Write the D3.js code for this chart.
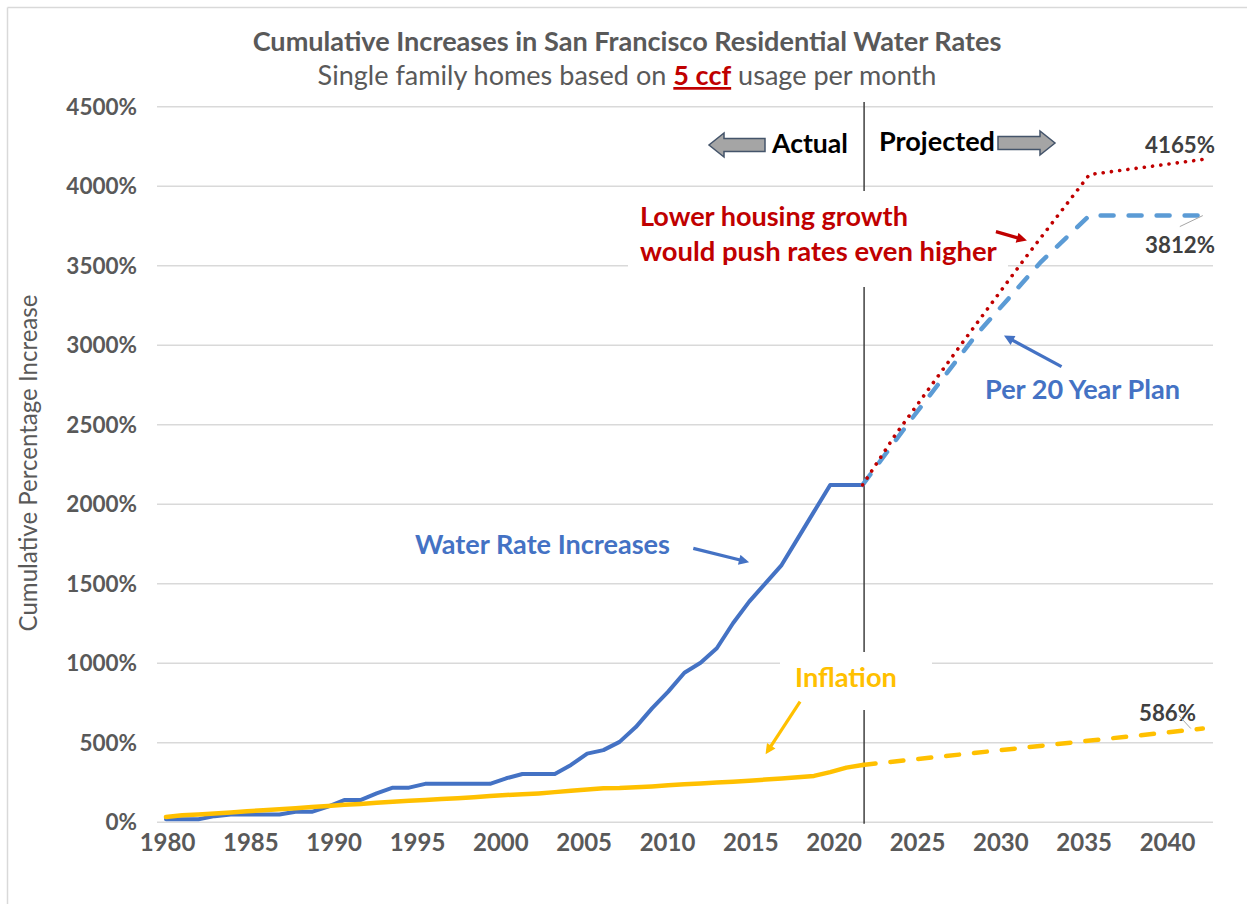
<!DOCTYPE html>
<html>
<head>
<meta charset="utf-8">
<script src="https://cdn.jsdelivr.net/npm/d3@7"></script>
<style>
  body { margin: 0; background: #fff; }
  svg { display: block; font-family: Lato, "Open Sans", sans-serif; }
</style>
</head>
<body>
<div id="chart"></div>
<script>
// --- Data ---
const actualYears = d3.range(1980, 2024);
const waterRate = [15, 15, 15, 35, 45, 45, 45, 45, 62, 62,
  95, 136, 136, 178, 214, 214, 238, 238, 238, 238,
  238, 273, 300, 300, 300, 357, 428, 450, 502, 595,
  713, 818, 937, 1000, 1091, 1248, 1384, 1499, 1614, 1782,
  1950, 2118, 2118, 2118];
const inflation = [30, 40, 46, 52, 58, 66, 72, 79, 85, 92,
  99, 106, 112, 119, 125, 132, 137, 142, 147, 154,
  162, 168, 172, 178, 186, 195, 203, 211, 212, 216,
  222, 229, 235, 241, 247, 252, 258, 265, 272, 280,
  288, 312, 340, 357];

const planYears = [2023, 2026, 2030, 2034, 2037, 2044];
const planRate = [2118, 2530, 3060, 3520, 3812, 3812];
const lowGrowthYears = [2023, 2025, 2029, 2033, 2037, 2044];
const lowGrowthRate = [2118, 2430, 2990, 3540, 4070, 4165];
const inflProjYears = [2023, 2044];
const inflProj = [357, 586];

const dividerYear = 2023;
const yTicks = [0, 500, 1000, 1500, 2000, 2500, 3000, 3500, 4000, 4500];
const xTicks = [1980, 1985, 1990, 1995, 2000, 2005, 2010, 2015, 2020, 2025, 2030, 2035, 2040];

// --- Setup ---
const width = 1247, height = 904;
const svg = d3.select('#chart').append('svg')
  .attr('width', width).attr('height', height);

const x = d3.scaleLinear().domain([1980, 2044]).range([166, 1202.8]);
const y = d3.scaleLinear().domain([0, 4500]).range([821.7, 106.2]);
// category labels sit on their own evenly spaced positions
const xLabel = d3.scalePoint().domain(xTicks).range([167, 1167]);
const gridLeft = 157, gridRight = 1213;

function fit(sel, w) {
  const fs = parseFloat(sel.attr('font-size'));
  const len = sel.node().getComputedTextLength();
  sel.attr('font-size', (fs * w / len).toFixed(2));
  return sel;
}

// outer border (top / left)
svg.append('line').attr('x1', 7.5).attr('x2', width).attr('y1', 7.5).attr('y2', 7.5)
  .attr('stroke', '#d9d9d9').attr('stroke-width', 1.5);
svg.append('line').attr('x1', 7.5).attr('x2', 7.5).attr('y1', 7.5).attr('y2', height)
  .attr('stroke', '#d9d9d9').attr('stroke-width', 1.5);

// Title
fit(svg.append('text')
  .attr('x', 627).attr('y', 51)
  .attr('text-anchor', 'middle')
  .attr('font-size', 23).attr('font-weight', 'bold').attr('fill', '#595959')
  .text('Cumulative Increases in San Francisco Residential Water Rates'), 749);

const sub = svg.append('text')
  .attr('x', 627).attr('y', 85)
  .attr('text-anchor', 'middle')
  .attr('font-size', 23).attr('fill', '#595959');
sub.append('tspan').text('Single family homes based on ');
sub.append('tspan').attr('font-weight', 'bold').attr('fill', '#c00000')
  .attr('text-decoration', 'underline').text('5 ccf');
sub.append('tspan').text(' usage per month');
fit(sub, 619);

// Gridlines
svg.append('g')
  .attr('transform', `translate(${gridLeft},0)`)
  .call(d3.axisLeft(y).tickValues(yTicks).tickSize(-(gridRight - gridLeft)).tickFormat(''))
  .call(g => g.select('.domain').remove())
  .call(g => g.selectAll('line').attr('stroke', '#d9d9d9').attr('stroke-width', 1.5));

// Y axis labels
svg.append('g')
  .attr('transform', `translate(${gridLeft},0)`)
  .call(d3.axisLeft(y).tickValues(yTicks).tickSize(0).tickPadding(20).tickFormat(d => d + '%'))
  .call(g => g.select('.domain').remove())
  .call(g => g.selectAll('text')
    .attr('font-family', 'Lato').attr('font-size', 22.5).attr('font-weight', 'bold')
    .attr('fill', '#595959').attr('dy', '0.36em'));

// X axis labels
svg.append('g')
  .attr('transform', `translate(0,${y(0)})`)
  .call(d3.axisBottom(xLabel).tickSize(0).tickPadding(12).tickFormat(d3.format('d')))
  .call(g => g.select('.domain').remove())
  .call(g => g.selectAll('text')
    .attr('font-family', 'Lato').attr('font-size', 24).attr('font-weight', 'bold')
    .attr('fill', '#595959'));

// Y axis title
fit(svg.append('text')
  .attr('transform', 'translate(37,463) rotate(-90)')
  .attr('text-anchor', 'middle')
  .attr('font-size', 21).attr('fill', '#595959')
  .text('Cumulative Percentage Increase'), 337);

// Divider between actual and projected
svg.append('line')
  .attr('x1', x(dividerYear) + 1.5).attr('x2', x(dividerYear) + 1.5)
  .attr('y1', 102).attr('y2', y(0) + 2)
  .attr('stroke', '#404040').attr('stroke-width', 1.5);

// white text boxes hiding grid / divider
svg.append('rect').attr('x', 628).attr('y', 191).attr('width', 380).attr('height', 96).attr('fill', '#fff');
svg.append('rect').attr('x', 780).attr('y', 652).attr('width', 152).attr('height', 58).attr('fill', '#fff');

// --- Series ---
const line = d3.line().x(d => x(d[0])).y(d => y(d[1]));

svg.append('path')
  .datum(actualYears.map((yr, i) => [yr, waterRate[i]]))
  .attr('fill', 'none').attr('stroke', '#4472c4').attr('stroke-width', 4)
  .attr('stroke-linejoin', 'round').attr('stroke-linecap', 'round')
  .attr('d', line);

svg.append('path')
  .datum(actualYears.map((yr, i) => [yr, inflation[i]]))
  .attr('fill', 'none').attr('stroke', '#ffc000').attr('stroke-width', 4.5)
  .attr('stroke-linejoin', 'round').attr('stroke-linecap', 'round')
  .attr('d', line);

svg.append('path')
  .datum(inflProjYears.map((yr, i) => [yr, inflProj[i]]))
  .attr('fill', 'none').attr('stroke', '#ffc000').attr('stroke-width', 4.5)
  .attr('stroke-dasharray', '13 15').attr('stroke-linecap', 'round')
  .attr('d', line);

svg.append('path')
  .datum(planYears.map((yr, i) => [yr, planRate[i]]))
  .attr('fill', 'none').attr('stroke', '#5b9bd5').attr('stroke-width', 4.5)
  .attr('stroke-dasharray', '13 15').attr('stroke-linecap', 'round')
  .attr('d', line);

svg.append('path')
  .datum(lowGrowthYears.map((yr, i) => [yr, lowGrowthRate[i]]))
  .attr('fill', 'none').attr('stroke', '#c00000').attr('stroke-width', 3.6)
  .attr('stroke-dasharray', '0.1 8.2').attr('stroke-linecap', 'round')
  .attr('d', line);

// --- End labels ---
const endYear = 2044;
const lbl4165 = fit(svg.append('text')
  .attr('x', 1215).attr('y', 153).attr('text-anchor', 'end')
  .attr('font-size', 22).attr('font-weight', 'bold').attr('fill', '#404040')
  .text(lowGrowthRate[lowGrowthRate.length - 1] + '%'), 70);
const endFs = lbl4165.attr('font-size');
svg.append('text')
  .attr('x', 1215).attr('y', 253).attr('text-anchor', 'end')
  .attr('font-size', endFs).attr('font-weight', 'bold').attr('fill', '#404040')
  .text(planRate[planRate.length - 1] + '%');
svg.append('text')
  .attr('x', 1196).attr('y', 721).attr('text-anchor', 'end')
  .attr('font-size', endFs).attr('font-weight', 'bold').attr('fill', '#404040')
  .text(inflProj[inflProj.length - 1] + '%');

// leader lines
svg.append('line')
  .attr('x1', x(endYear) - 23).attr('y1', y(3812) + 11)
  .attr('x2', x(endYear)).attr('y2', y(3812))
  .attr('stroke', '#a6a6a6').attr('stroke-width', 1);
svg.append('line')
  .attr('x1', x(endYear) - 24).attr('y1', y(586) - 13)
  .attr('x2', x(endYear) - 12).attr('y2', y(586))
  .attr('stroke', '#a6a6a6').attr('stroke-width', 1);

// --- Annotations ---
const notes = [
  { text: 'Actual', x: 848, y: 153, anchor: 'end', w: 76, color: '#000' },
  { text: 'Projected', x: 879, y: 151, anchor: 'start', w: 116, color: '#000' },
  { text: 'Lower housing growth', x: 640, y: 226, anchor: 'start', w: 268, color: '#c00000' },
  { text: 'would push rates even higher', x: 640, y: 261, anchor: 'start', w: 357, color: '#c00000' },
  { text: 'Per 20 Year Plan', x: 985, y: 399, anchor: 'start', w: 195, color: '#4472c4' },
  { text: 'Water Rate Increases', x: 415, y: 554, anchor: 'start', w: 255, color: '#4472c4' },
  { text: 'Inflation', x: 795, y: 687, anchor: 'start', w: 102, color: '#ffc000' }
];
notes.forEach(n => {
  fit(svg.append('text')
    .attr('x', n.x).attr('y', n.y).attr('text-anchor', n.anchor)
    .attr('font-size', 23).attr('font-weight', 'bold').attr('fill', n.color)
    .text(n.text), n.w);
});

// Block arrows next to Actual / Projected
function blockArrow(xTail, xTip, cy) {
  const dir = Math.sign(xTip - xTail);
  const neck = xTip - dir * 15;
  const p = d3.path();
  p.moveTo(xTail, cy - 6.5);
  p.lineTo(neck, cy - 6.5);
  p.lineTo(neck, cy - 12);
  p.lineTo(xTip, cy);
  p.lineTo(neck, cy + 12);
  p.lineTo(neck, cy + 6.5);
  p.lineTo(xTail, cy + 6.5);
  p.closePath();
  svg.append('path').attr('d', p.toString())
    .attr('fill', '#a5a5a5').attr('stroke', '#44546a').attr('stroke-width', 1.5);
}
blockArrow(765, 709, 145);
blockArrow(998, 1055, 143);

// Pointer arrows (in data units)
const defs = svg.append('defs');
function marker(id, color) {
  defs.append('marker')
    .attr('id', id).attr('viewBox', '0 0 10 10')
    .attr('refX', 6).attr('refY', 5)
    .attr('markerWidth', 3.6).attr('markerHeight', 3.2)
    .attr('orient', 'auto')
    .append('path').attr('d', 'M0,0 L10,5 L0,10 z').attr('fill', color);
}
marker('ah-blue', '#4472c4');
marker('ah-red', '#c00000');
marker('ah-gold', '#ffc000');

const pointers = [
  { from: [2012.55, 1719], to: [2015.75, 1638], id: 'ah-blue', color: '#4472c4' },
  { from: [2035.28, 2862], to: [2031.95, 3045], id: 'ah-blue', color: '#4472c4' },
  { from: [2019.14, 755], to: [2017.15, 445], id: 'ah-gold', color: '#ffc000' },
  { from: [2031.23, 3711], to: [2032.9, 3662], id: 'ah-red', color: '#c00000' }
];
pointers.forEach(a => {
  svg.append('line')
    .attr('x1', x(a.from[0])).attr('y1', y(a.from[1]))
    .attr('x2', x(a.to[0])).attr('y2', y(a.to[1]))
    .attr('stroke', a.color).attr('stroke-width', 3.2)
    .attr('marker-end', `url(#${a.id})`);
});
</script>
</body>
</html>
